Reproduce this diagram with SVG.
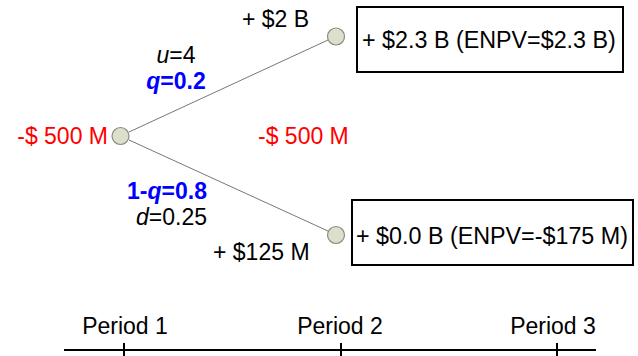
<svg xmlns="http://www.w3.org/2000/svg" width="638" height="356" viewBox="0 0 638 356">
<style>
text{font-family:"Liberation Sans",Arial,sans-serif;font-size:23px;fill:#000}
.red{fill:#ff0000}
.blue{fill:#0000ff;font-weight:bold}
.big{font-size:23.3px}
.node{fill:#dcdfcb;stroke:#8a8a80;stroke-width:1.2}
.box{fill:#fff;stroke:#000;stroke-width:2}
.edge{stroke:#777;stroke-width:1;fill:none}
.axis{stroke:#000;stroke-width:2;fill:none}
</style>
<rect width="638" height="356" fill="#fff"/>
<g id="connectors">
<line class="edge" x1="129" y1="132" x2="328" y2="40"/>
<line class="edge" x1="129" y1="140" x2="328" y2="231"/>
</g>
<g id="root">
<circle class="node" cx="120.5" cy="136" r="8.5"/>
<text class="red" x="108" y="144" text-anchor="end">-$ 500 M</text>
</g>
<g id="up">
<circle class="node" cx="336" cy="36.5" r="8.5"/>
</g>
<g id="down">
<circle class="node" cx="336" cy="235" r="8.5"/>
</g>
<g id="upbox">
<rect class="box" x="357" y="7" width="266" height="65"/>
<text class="big" x="362" y="48">+ $2.3 B (ENPV=$2.3 B)</text>
</g>
<g id="downbox">
<rect class="box" x="352" y="200" width="281" height="65"/>
<text class="big" x="356" y="244">+ $0.0 B (ENPV=-$175 M)</text>
</g>
<g id="labels">
<text x="242" y="27">+ $2 B</text>
<text x="176" y="63" text-anchor="middle"><tspan font-style="italic">u</tspan>=4</text>
<text class="blue" x="176" y="89" text-anchor="middle"><tspan font-style="italic">q</tspan>=0.2</text>
<text class="red" x="258" y="144">-$ 500 M</text>
<text class="blue" x="207" y="199" text-anchor="end">1-<tspan font-style="italic">q</tspan>=0.8</text>
<text x="207" y="225" text-anchor="end"><tspan font-style="italic">d</tspan>=0.25</text>
<text x="213" y="260">+ $125 M</text>
</g>
<g id="timeline">
<line class="axis" x1="64" y1="350" x2="596" y2="350"/>
<line class="axis" x1="124" y1="343" x2="124" y2="356"/>
<line class="axis" x1="341" y1="343" x2="341" y2="356"/>
<line class="axis" x1="557" y1="343" x2="557" y2="356"/>
<text x="125" y="334" text-anchor="middle">Period 1</text>
<text x="340" y="334" text-anchor="middle">Period 2</text>
<text x="553" y="334" text-anchor="middle">Period 3</text>
</g>
</svg>
